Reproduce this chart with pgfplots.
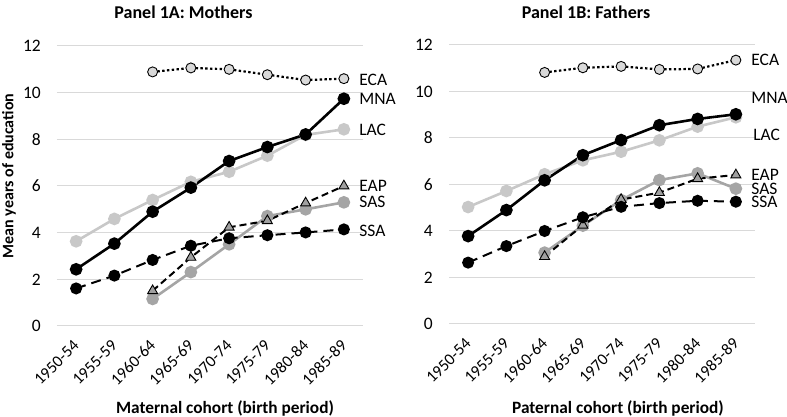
\documentclass[border=0pt]{standalone}
\usepackage{pgfplots}
\pgfplotsset{compat=1.18}
\usepackage{fontspec}
\setmainfont{Carlito}
\definecolor{clac}{HTML}{C8C8C8}
\definecolor{csas}{HTML}{A5A5A5}
\definecolor{ecafill}{HTML}{D9D9D9}
\definecolor{eapfill}{HTML}{A0A0A0}
\definecolor{gridc}{HTML}{D9D9D9}
\tikzset{lab/.style={anchor=west, inner sep=0pt, font=\fontsize{17.5}{19}\selectfont}}
\pgfplotsset{
  panel/.style={
    scale only axis, width=306pt,
    xmin=-0.5, xmax=7.5, ymin=0, ymax=12,
    ytick={0,2,...,12}, xtick={0,...,7},
    xticklabels={1950-54,1955-59,1960-64,1965-69,1970-74,1975-79,1980-84,1985-89},
    axis line style={draw=none}, major tick length=0pt,
    ymajorgrids, grid style={gridc, line width=1pt},
    clip=false,
    /pgf/number format/assume math mode=true,
    yticklabel style={font=\fontsize{17.5}{19}\selectfont, anchor=east, inner sep=0pt},
    yticklabel shift=16pt,
    xticklabel style={font=\fontsize{16.5}{18}\selectfont, rotate=45, anchor=east, inner sep=0pt},
    xticklabel shift=17pt,
  },
  sECA/.style={black, line width=2.2pt, dash pattern=on 2.4pt off 2.4pt, mark=*, mark size=5pt, mark options={solid, fill=ecafill, draw=black, line width=0.9pt}},
  sMNA/.style={black, line width=2.6pt, mark=*, mark size=5pt, mark options={solid, fill=black}},
  sLAC/.style={clac, line width=2.6pt, mark=*, mark size=5pt, mark options={solid, fill=clac, draw=clac}},
  sEAP/.style={black, line width=2pt, dash pattern=on 7pt off 4pt, mark=triangle*, mark size=5.8pt, mark options={solid, fill=eapfill, draw=black, line width=0.9pt}},
  sSAS/.style={csas, line width=2.6pt, mark=*, mark size=5pt, mark options={solid, fill=csas, draw=csas}},
  sSSA/.style={black, line width=2pt, dash pattern=on 10pt off 6pt, mark=*, mark size=5pt, mark options={solid, fill=black}},
}
\begin{document}
\begin{tikzpicture}[x=1pt,y=1pt]
\path[use as bounding box] (0,0) rectangle (787,417);
% Panel A
\begin{axis}[panel, height=280pt, at={(57pt,91pt)}, anchor=south west]
\addplot[sLAC] coordinates {(0,3.63)(1,4.59)(2,5.40)(3,6.18)(4,6.61)(5,7.30)(6,8.19)(7,8.43)};
\addplot[sMNA] coordinates {(0,2.43)(1,3.53)(2,4.90)(3,5.93)(4,7.07)(5,7.67)(6,8.21)(7,9.74)};
\addplot[sECA] coordinates {(2,10.89)(3,11.06)(4,11.00)(5,10.77)(6,10.54)(7,10.60)};
\addplot[sSAS] coordinates {(2,1.16)(3,2.31)(4,3.50)(5,4.71)(6,5.00)(7,5.30)};
\addplot[sEAP] coordinates {(2,1.51)(3,2.94)(4,4.23)(5,4.51)(6,5.27)(7,6.00)};
\addplot[sSSA] coordinates {(0,1.61)(1,2.16)(2,2.83)(3,3.44)(4,3.76)(5,3.89)(6,4.01)(7,4.14)};
\node[lab] at (axis cs:7.4,10.54) {ECA};
\node[lab] at (axis cs:7.4,9.73) {MNA};
\node[lab] at (axis cs:7.4,8.40) {LAC};
\node[lab] at (axis cs:7.4,6.00) {EAP};
\node[lab] at (axis cs:7.4,5.31) {SAS};
\node[lab] at (axis cs:7.4,4.07) {SSA};
\end{axis}
% Panel B
\begin{axis}[panel, height=279pt, at={(449pt,93pt)}, anchor=south west]
\addplot[sLAC] coordinates {(0,5.03)(1,5.72)(2,6.44)(3,7.04)(4,7.41)(5,7.90)(6,8.49)(7,8.89)};
\addplot[sMNA] coordinates {(0,3.78)(1,4.90)(2,6.18)(3,7.26)(4,7.91)(5,8.55)(6,8.82)(7,9.02)};
\addplot[sECA] coordinates {(2,10.82)(3,11.02)(4,11.08)(5,10.95)(6,10.97)(7,11.35)};
\addplot[sSAS] coordinates {(2,3.07)(3,4.23)(4,5.33)(5,6.19)(6,6.48)(7,5.82)};
\addplot[sEAP] coordinates {(2,2.90)(3,4.25)(4,5.35)(5,5.65)(6,6.25)(7,6.41)};
\addplot[sSSA] coordinates {(0,2.64)(1,3.35)(2,4.00)(3,4.59)(4,5.04)(5,5.20)(6,5.30)(7,5.26)};
\node[lab] at (axis cs:7.4,11.35) {ECA};
\node[lab] at (axis cs:7.4,9.72) {MNA};
\node[lab] at (axis cs:7.45,8.13) {LAC};
\node[lab] at (axis cs:7.4,6.41) {EAP};
\node[lab] at (axis cs:7.4,5.82) {SAS};
\node[lab] at (axis cs:7.4,5.25) {SSA};
\end{axis}
\node[font=\bfseries\fontsize{18}{20}\selectfont] at (183.5,405) {Panel 1A: Mothers};
\node[font=\bfseries\fontsize{18}{20}\selectfont] at (586,405) {Panel 1B: Fathers};
\node[font=\bfseries\fontsize{17.3}{19}\selectfont] at (225,9) {Maternal cohort (birth period)};
\node[font=\bfseries\fontsize{17.3}{19}\selectfont] at (618,9) {Paternal cohort (birth period)};
\node[font=\bfseries\fontsize{16}{18}\selectfont, rotate=90] at (9,241) {Mean years of education};
\end{tikzpicture}
\end{document}
